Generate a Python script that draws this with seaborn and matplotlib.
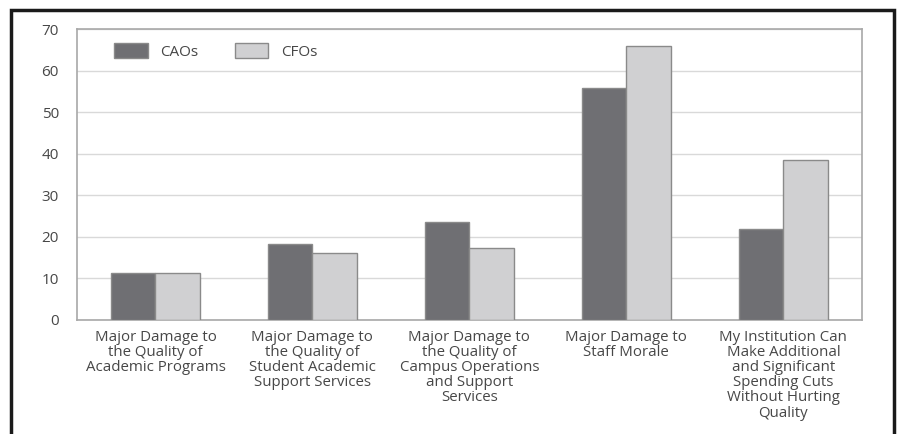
import matplotlib
matplotlib.use('Agg')
import matplotlib.pyplot as plt
import matplotlib.patches as mpatches
import matplotlib.lines as mlines
import pandas as pd
import seaborn as sns

categories = [
    'Major Damage to\nthe Quality of\nAcademic Programs',
    'Major Damage to\nthe Quality of\nStudent Academic\nSupport Services',
    'Major Damage to\nthe Quality of\nCampus Operations\nand Support\nServices',
    'Major Damage to\nStaff Morale',
    'My Institution Can\nMake Additional\nand Significant\nSpending Cuts\nWithout Hurting\nQuality',
]
cao_values = [11.4, 18.2, 23.5, 55.9, 21.8]
cfo_values = [11.4, 16.1, 17.3, 65.9, 38.4]
series = ['CAOs', 'CFOs']
yticks = [0, 10, 20, 30, 40, 50, 60, 70]

df = pd.DataFrame({
    'category': categories * 2,
    'value': cao_values + cfo_values,
    'group': [series[0]] * len(categories) + [series[1]] * len(categories),
})

sns.set_style('white')
plt.rcParams['font.family'] = ['Open Sans', 'DejaVu Sans']
text_col = '#474747'

fig = plt.figure(figsize=(8.98, 4.34), dpi=100)
ax = fig.add_axes([0.0857, 0.263, 0.874, 0.67])

palette = {'CAOs': '#6f6f73', 'CFOs': '#d0d0d2'}
sns.barplot(data=df, x='category', y='value', hue='group', palette=palette,
            width=0.57, edgecolor='#8a8a8a', linewidth=1.0, saturation=1,
            ax=ax, zorder=3)

ax.set_ylim(0, 70)
ax.set_xlim(-0.5, len(categories) - 0.5)
ax.set_yticks(yticks)
ax.set_yticklabels([str(t) for t in yticks], fontsize=11, color=text_col)
ax.set_xticklabels(categories, fontsize=10.8, color=text_col, linespacing=1.02)
ax.set_xlabel('')
ax.set_ylabel('')
ax.yaxis.grid(True, color='#d9d9d9', linewidth=1.0, zorder=0)
ax.set_axisbelow(True)
for sp in ax.spines.values():
    sp.set_color('#a8a8a8')
    sp.set_linewidth(1.2)
ax.tick_params(axis='y', length=4, color='#c8c8c8', pad=9)
ax.tick_params(axis='x', length=0, pad=7)
ax.set_xticks([i + 0.5 for i in range(len(categories) - 1)], minor=True)
ax.tick_params(axis='x', which='minor', length=5, color='#a8a8a8', width=1.0)

handles = [mpatches.Patch(facecolor=palette[s], edgecolor='#8a8a8a', label=s) for s in series]
ax.legend(handles=handles, loc='upper left', bbox_to_anchor=(0.03, 1.0), ncol=2,
          frameon=False, fontsize=11, handlelength=2.2, handleheight=1.2,
          columnspacing=2.4, handletextpad=0.8, labelcolor=text_col)

# outer black frame: left, top and right edges only
x0, x1, y0, y1 = 11 / 898, 894 / 898, 0.0, 1 - 10 / 434
frame = mlines.Line2D([x0, x0, x1, x1], [y0, y1, y1, y0], transform=fig.transFigure,
                      color='#1a1a1a', linewidth=2.5, solid_joinstyle='miter')
fig.lines.append(frame)

fig.savefig('out.png', dpi=100, facecolor='white')
